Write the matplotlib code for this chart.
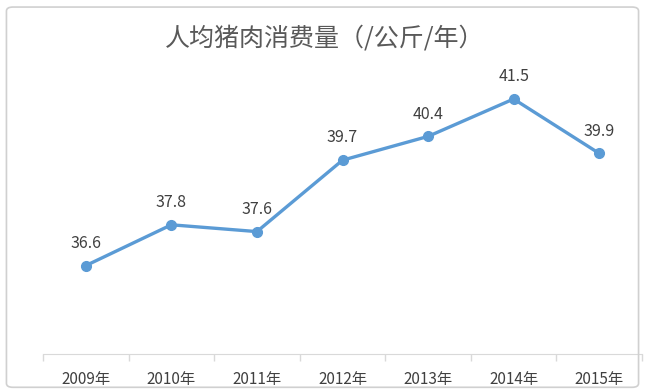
import matplotlib

matplotlib.use("Agg")

import matplotlib.pyplot as plt
from matplotlib.patches import FancyBboxPatch

plt.rcParams["font.family"] = ["Noto Sans CJK SC", "DejaVu Sans"]

years = ["2009年", "2010年", "2011年", "2012年", "2013年", "2014年", "2015年"]
consumption = [36.6, 37.8, 37.6, 39.7, 40.4, 41.5, 39.9]
title = "人均猪肉消费量（/公斤/年）"

line_color = "#5B9BD5"
text_color = "#404040"

fig = plt.figure(figsize=(6.45, 3.92), dpi=100)

# light rounded frame around the chart
frame = FancyBboxPatch((0.010, 0.012), 0.980, 0.970,
                       boxstyle="round,pad=0,rounding_size=0.01",
                       transform=fig.transFigure, fill=False,
                       edgecolor="#D0D0D0", linewidth=1.2)
fig.patches.append(frame)

ax = fig.add_axes([43 / 645, 1 - 354 / 392, 599 / 645, 306 / 392])
x = list(range(len(years)))
ax.plot(x, consumption, color=line_color, linewidth=2.4,
        marker="o", markersize=7, markerfacecolor=line_color,
        markeredgecolor=line_color, solid_capstyle="round")

for xi, v in zip(x, consumption):
    ax.annotate(f"{v:.1f}", (xi, v), xytext=(0, 10), textcoords="offset points",
                ha="center", va="bottom", fontsize=11.5, color=text_color)

ax.set_xlim(-0.5, len(years) - 0.5)
ax.set_ylim(34, 43)
ax.set_yticks([])
ax.set_xticks([i - 0.5 for i in range(len(years) + 1)], minor=False)
ax.set_xticklabels([])
ax.set_xticks(x, minor=True)
ax.set_xticklabels(years, minor=True, fontsize=11, color=text_color)
ax.tick_params(axis="x", which="major", length=5, color="#D9D9D9", width=1)
ax.tick_params(axis="x", which="minor", length=0, pad=12)
for side in ["top", "right", "left"]:
    ax.spines[side].set_visible(False)
ax.spines["bottom"].set_color("#D9D9D9")
ax.patch.set_alpha(0)

fig.text(0.493 + 7 / 645, 0.902, title, ha="center", va="center",
         fontsize=18, color="#595959")

fig.savefig("out.png", dpi=100)
plt.close(fig)
